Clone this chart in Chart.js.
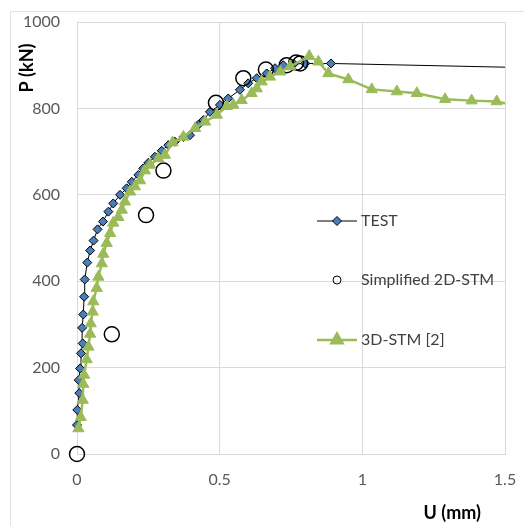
<!DOCTYPE html>
<html>
<head>
<meta charset="utf-8">
<script src="https://cdn.jsdelivr.net/npm/chart.js@4/dist/chart.umd.min.js"></script>
<style>
  html, body { margin: 0; padding: 0; background: #fff; }
  canvas { display: block; }
</style>
</head>
<body>
<canvas id="chart" width="524" height="526"></canvas>
<script>
// load-displacement curves: test vs. strut-and-tie models
var testU = [0.000, 0.001, 0.008, 0.006, 0.011, 0.014, 0.020, 0.018, 0.022, 0.025, 0.027, 0.036, 0.046, 0.058, 0.072, 0.091, 0.110, 0.127, 0.151, 0.174, 0.192, 0.215, 0.232, 0.250, 0.273, 0.297, 0.320, 0.343, 0.373, 0.396, 0.425, 0.443, 0.466, 0.501, 0.530, 0.571, 0.600, 0.630, 0.665, 0.694, 0.723, 0.760, 0.800, 0.890, 1.600];
var testP = [67, 102, 141, 171, 198, 233, 256, 292, 323, 364, 404, 443, 471, 494, 520, 538, 561, 580, 600, 615, 630, 646, 661, 674, 688, 702, 715, 723, 734, 738, 762, 773, 792, 808, 823, 843, 858, 870, 881, 893, 900, 903, 904, 904, 894];

var stm2dU = [0, 0.122, 0.242, 0.303, 0.487, 0.583, 0.662, 0.735, 0.768, 0.782];
var stm2dP = [0, 277, 553, 656, 813, 870, 890, 900, 906, 904];

var stm3dU = [0.005, 0.013, 0.020, 0.022, 0.025, 0.034, 0.040, 0.046, 0.048, 0.055, 0.057, 0.069, 0.075, 0.087, 0.092, 0.104, 0.116, 0.127, 0.145, 0.157, 0.168, 0.186, 0.203, 0.221, 0.238, 0.256, 0.285, 0.308, 0.335, 0.373, 0.414, 0.449, 0.490, 0.525, 0.548, 0.577, 0.612, 0.630, 0.647, 0.676, 0.712, 0.747, 0.814, 0.846, 0.881, 0.951, 1.033, 1.121, 1.191, 1.290, 1.383, 1.471, 1.600];
var stm3dP = [59, 85, 125, 162, 183, 219, 248, 278, 302, 329, 353, 384, 410, 441, 463, 488, 511, 535, 548, 565, 584, 607, 619, 633, 656, 669, 684, 692, 721, 734, 754, 769, 785, 805, 808, 819, 835, 846, 862, 873, 885, 897, 921, 908, 881, 867, 844, 839, 835, 821, 818, 816, 797];

var xTicks = [0, 0.5, 1, 1.5];
var yTicks = [0, 200, 400, 600, 800, 1000];
var seriesNames = ['TEST', 'Simplified 2D-STM', '3D-STM [2]'];

function pts(xs, ys) {
  return xs.map(function (x, i) { return { x: x, y: ys[i] }; });
}

var FONT = 'Lato, "Open Sans", sans-serif';
var GRID = '#d9d9d9';
var GREEN = '#9bbb59';
var BLUE = '#4a7ebb';

var extras = {
  id: 'extras',
  beforeDraw: function (chart) {
    var ctx = chart.ctx;
    ctx.save();
    ctx.strokeStyle = '#e3e3e3';
    ctx.lineWidth = 1;
    ctx.beginPath();
    ctx.moveTo(10.5, 526);
    ctx.lineTo(10.5, 11.5);
    ctx.lineTo(524, 11.5);
    ctx.stroke();
    ctx.restore();
  },
  afterDraw: function (chart) {
    var ctx = chart.ctx;
    ctx.save();
    // axis titles
    ctx.fillStyle = '#000';
    ctx.font = 'bold 18px ' + FONT;
    ctx.textAlign = 'right';
    ctx.textBaseline = 'middle';
    ctx.fillText('U (mm)', 481, 513);
    ctx.save();
    ctx.translate(27, 68);
    ctx.rotate(-Math.PI / 2);
    ctx.textAlign = 'center';
    ctx.fillText('P (kN)', 0, 0);
    ctx.restore();

    // legend
    var rows = [221, 280, 340];
    var x0 = 317, x1 = 357, xm = 337;
    ctx.font = '16px ' + FONT;
    ctx.textAlign = 'left';
    rows.forEach(function (y, i) {
      var ds = chart.data.datasets[i];
      if (ds.showLine !== false) {
        ctx.strokeStyle = ds.borderColor;
        ctx.lineWidth = ds.borderWidth;
        ctx.beginPath();
        ctx.moveTo(x0, y);
        ctx.lineTo(x1, y);
        ctx.stroke();
      }
      ctx.fillStyle = ds.pointBackgroundColor;
      ctx.strokeStyle = ds.pointBorderColor;
      Chart.helpers.drawPoint(ctx, {
        pointStyle: ds.pointStyle,
        radius: i === 1 ? 4 : ds.pointRadius,
        rotation: 0,
        borderWidth: ds.pointBorderWidth
      }, xm, y);
      ctx.fillStyle = '#404040';
      ctx.fillText(seriesNames[i], 361, y);
    });
    ctx.restore();
  }
};

function plainTick(v) { return String(v); }

new Chart(document.getElementById('chart'), {
  type: 'scatter',
  data: {
    datasets: [
      {
        label: seriesNames[0],
        data: pts(testU, testP),
        showLine: true,
        borderColor: '#000',
        borderWidth: 1,
        pointStyle: 'rectRot',
        pointRadius: 4.5,
        pointBackgroundColor: BLUE,
        pointBorderColor: '#000',
        pointBorderWidth: 1,
        clip: { left: 10, top: 10, right: 0, bottom: 10 },
        order: 3
      },
      {
        label: seriesNames[1],
        data: pts(stm2dU, stm2dP),
        showLine: false,
        pointStyle: 'circle',
        pointRadius: 7.5,
        pointBackgroundColor: 'rgba(0,0,0,0)',
        pointBorderColor: '#000',
        pointBorderWidth: 1.5,
        clip: false,
        order: 2
      },
      {
        label: seriesNames[2],
        data: pts(stm3dU, stm3dP),
        showLine: true,
        borderColor: GREEN,
        borderWidth: 2.5,
        pointStyle: 'triangle',
        pointRadius: 6.5,
        pointBackgroundColor: GREEN,
        pointBorderColor: GREEN,
        pointBorderWidth: 1,
        clip: { left: 10, top: 10, right: 0, bottom: 10 },
        order: 1
      }
    ]
  },
  options: {
    responsive: false,
    animation: false,
    layout: { padding: { top: 22, right: 19, left: 0, bottom: 0 } },
    plugins: { legend: { display: false }, tooltip: { enabled: false } },
    scales: {
      x: {
        type: 'linear',
        min: 0,
        max: 1.5,
        afterBuildTicks: function (s) { s.ticks = xTicks.map(function (v) { return { value: v }; }); },
        afterFit: function (s) { s.height = 72; s.paddingLeft = 0; s.paddingRight = 0; },
        grid: { color: GRID, drawTicks: false },
        border: { color: GRID },
        ticks: { color: '#595959', font: { family: FONT, size: 16 }, padding: 16, maxRotation: 0, callback: plainTick }
      },
      y: {
        type: 'linear',
        min: 0,
        max: 1000,
        afterBuildTicks: function (s) { s.ticks = yTicks.map(function (v) { return { value: v }; }); },
        afterFit: function (s) { s.width = 77; s.paddingTop = 0; s.paddingBottom = 0; },
        grid: { color: GRID, drawTicks: false },
        border: { color: GRID },
        ticks: { color: '#595959', font: { family: FONT, size: 16 }, padding: 17, callback: plainTick }
      }
    }
  },
  plugins: [extras]
});
</script>
</body>
</html>
